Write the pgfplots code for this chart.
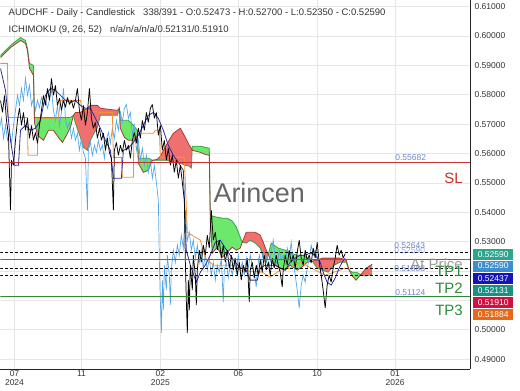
\documentclass[border=0pt]{standalone}
\usepackage{fontspec}
\setmainfont{Liberation Sans}
\usepackage{pgfplots}
\usepackage{pgfplotstable}
\pgfplotsset{compat=1.18}

\definecolor{gridc}{HTML}{E6E6E6}
\definecolor{tenkan}{HTML}{2B2BA6}
\definecolor{kijun}{HTML}{F29133}
\definecolor{chikou}{HTML}{55A8E8}
\definecolor{spanA}{HTML}{3E9E4A}
\definecolor{spanB}{HTML}{A83A3A}
\definecolor{cloudG}{HTML}{6CE86C}
\definecolor{cloudR}{HTML}{F07070}
\definecolor{slred}{HTML}{C83030}
\definecolor{tpgreen}{HTML}{2E8B3A}
\definecolor{lvl}{HTML}{6F86C8}
\definecolor{tagA}{HTML}{2CA58D}
\definecolor{tagB}{HTML}{3E8ED0}
\definecolor{tagC}{HTML}{1414B8}
\definecolor{tagD}{HTML}{1C9080}
\definecolor{tagE}{HTML}{D01040}
\definecolor{tagF}{HTML}{E86818}
\definecolor{txt}{HTML}{333333}

\pgfplotstableread{
x y
0 0.5781
2 0.5740
4 0.5798
6 0.5713
8 0.5662
10 0.5407
11 0.5577
13 0.5560
15 0.5645
17 0.5713
19 0.5754
21 0.5696
23 0.5740
25 0.5679
27 0.5720
29 0.5652
31 0.5696
33 0.5645
35 0.5672
37 0.5635
39 0.5696
41 0.5747
43 0.5798
45 0.5764
47 0.5822
49 0.5781
51 0.5856
53 0.5798
55 0.5832
57 0.5764
59 0.5788
61 0.5747
63 0.5781
65 0.5757
67 0.5791
69 0.5767
71 0.5781
73 0.5754
75 0.5781
77 0.5822
79 0.5747
81 0.5713
83 0.5764
85 0.5696
87 0.5740
89 0.5822
91 0.5720
93 0.5686
95 0.5706
97 0.5652
99 0.5686
101 0.5645
103 0.5669
105 0.5611
107 0.5652
109 0.5604
111 0.5584
113 0.5407
114 0.5611
116 0.5638
118 0.5594
120 0.5628
122 0.5604
124 0.5645
126 0.5611
128 0.5628
130 0.5584
132 0.5645
134 0.5672
136 0.5635
138 0.5686
140 0.5652
142 0.5713
144 0.5679
146 0.5740
148 0.5706
150 0.5754
152 0.5767
154 0.5720
156 0.5740
158 0.5662
160 0.5696
162 0.5611
164 0.5645
166 0.5577
168 0.5618
170 0.5560
172 0.5594
174 0.5536
176 0.5577
178 0.5516
180 0.5560
182 0.5502
184 0.5441
185 0.5237
186 0.5101
187 0.4989
188 0.5169
189 0.5067
190 0.5220
192 0.5135
193 0.5254
195 0.5186
196 0.5084
197 0.5203
199 0.5271
201 0.5230
203 0.5288
205 0.5254
207 0.5322
209 0.5278
211 0.5407
213 0.5305
215 0.5332
217 0.5271
219 0.5305
221 0.5244
223 0.5288
225 0.5230
227 0.5271
229 0.5210
231 0.5254
233 0.5203
235 0.5244
237 0.5186
239 0.5230
241 0.5169
243 0.5220
245 0.5196
247 0.5244
249 0.5094
250 0.5203
252 0.5230
254 0.5176
256 0.5220
258 0.5186
260 0.5237
262 0.5196
264 0.5254
266 0.5203
268 0.5230
270 0.5186
272 0.5244
274 0.5210
276 0.5254
278 0.5220
280 0.5196
282 0.5145
283 0.5203
285 0.5254
287 0.5220
289 0.5271
291 0.5230
293 0.5254
295 0.5210
297 0.5264
299 0.5305
301 0.5244
303 0.5220
305 0.5271
307 0.5237
309 0.5254
311 0.5227
313 0.5278
315 0.5244
317 0.5298
319 0.5230
321 0.5186
323 0.5135
325 0.5074
327 0.5152
329 0.5186
331 0.5162
333 0.5210
335 0.5244
337 0.5288
339 0.5254
341 0.5271
343 0.5244
345 0.5259
}\price

\pgfplotstableread{
x y
0 0.5890
5 0.5815
10 0.5645
14 0.5560
18 0.5560
20 0.5679
25 0.5696
30 0.5679
35 0.5686
40 0.5713
45 0.5798
50 0.5822
55 0.5815
60 0.5798
65 0.5781
70 0.5774
75 0.5781
80 0.5764
85 0.5754
90 0.5754
95 0.5720
100 0.5686
105 0.5645
110 0.5611
113 0.5516
121 0.5516
123 0.5611
128 0.5618
133 0.5638
138 0.5662
143 0.5696
148 0.5730
153 0.5740
158 0.5720
163 0.5679
168 0.5628
173 0.5594
178 0.5570
183 0.5543
186 0.5271
190 0.5220
196 0.5162
200 0.5196
205 0.5220
210 0.5254
215 0.5298
220 0.5305
225 0.5278
230 0.5254
235 0.5230
240 0.5210
245 0.5210
250 0.5169
257 0.5169
260 0.5210
265 0.5220
270 0.5220
275 0.5220
280 0.5210
285 0.5203
290 0.5230
295 0.5244
300 0.5254
305 0.5254
310 0.5261
315 0.5254
320 0.5230
324 0.5186
327 0.5162
331 0.5152
335 0.5176
339 0.5210
342 0.5230
345 0.5244
}\tenkan

\pgfplotstableread{
x y
0 0.5907
7 0.5907
7.5 0.5723
27 0.5723
27.5 0.5594
37 0.5594
37.5 0.5720
58 0.5720
60 0.5781
80 0.5781
82 0.5747
100 0.5740
112 0.5740
113 0.5587
121 0.5587
122 0.5519
133 0.5519
133.5 0.5669
153 0.5669
155 0.5679
159 0.5679
160 0.5587
184 0.5587
187 0.5332
200 0.5305
205 0.5244
213 0.5220
235 0.5220
240 0.5203
262 0.5196
270 0.5179
280 0.5203
290 0.5210
300 0.5230
315 0.5203
325 0.5186
340 0.5203
345 0.5210
}\kijun

\pgfplotstableread{
x a b
0 0.5934 0.5927
10 0.5968 0.5961
20 0.5995 0.5985
25 0.5985 0.5975
27 0.5958 0.5951
29 0.5907 0.5890
33 0.5900 0.5866
34 0.5723 0.5706
37 0.5723 0.5662
43 0.5723 0.5645
48 0.5723 0.5679
53 0.5723 0.5679
58 0.5723 0.5655
62 0.5723 0.5638
66 0.5723 0.5662
70 0.5723 0.5689
73 0.5730 0.5730
75 0.5703 0.5740
80 0.5655 0.5740
83 0.5621 0.5747
87 0.5611 0.5754
90 0.5645 0.5764
94 0.5672 0.5764
97 0.5689 0.5764
100 0.5730 0.5754
117 0.5730 0.5747
119 0.5754 0.5754
120 0.5713 0.5686
124 0.5713 0.5655
128 0.5713 0.5645
133 0.5696 0.5645
137 0.5679 0.5662
138 0.5584 0.5567
143 0.5584 0.5536
148 0.5584 0.5543
152 0.5577 0.5577
157 0.5577 0.5580
160 0.5577 0.5591
167 0.5577 0.5635
173 0.5570 0.5669
180 0.5567 0.5686
185 0.5560 0.5655
189 0.5557 0.5628
191 0.5550 0.5618
192 0.5625 0.5611
200 0.5625 0.5604
205 0.5621 0.5597
209 0.5618 0.5594
210 0.5390 0.5373
212 0.5387 0.5261
217 0.5383 0.5281
222 0.5380 0.5247
227 0.5380 0.5264
232 0.5370 0.5281
236 0.5350 0.5271
240 0.5315 0.5278
242 0.5298 0.5298
246 0.5295 0.5332
250 0.5305 0.5332
255 0.5295 0.5332
260 0.5278 0.5322
263 0.5247 0.5298
266 0.5230 0.5271
268 0.5257 0.5257
271 0.5295 0.5230
278 0.5278 0.5213
285 0.5271 0.5203
290 0.5261 0.5220
297 0.5254 0.5203
303 0.5254 0.5217
307 0.5244 0.5230
312 0.5234 0.5234
317 0.5210 0.5237
322 0.5203 0.5244
328 0.5196 0.5244
334 0.5220 0.5244
340 0.5230 0.5244
346 0.5230 0.5237
349 0.5203 0.5203
352 0.5196 0.5183
356 0.5196 0.5169
360 0.5189 0.5186
362 0.5186 0.5193
366 0.5183 0.5210
372 0.5189 0.5223
}\senkou

\tikzset{
  tag/.style={anchor=west, text=white, font=\fontsize{8.5}{9}\selectfont, inner sep=0pt, minimum width=40pt, minimum height=11pt},
  lvltxt/.style={anchor=west, text=lvl, font=\fontsize{8.5}{9}\selectfont, inner sep=0pt},
  big/.style={anchor=west, font=\fontsize{15}{16}\selectfont, inner sep=0pt}
}

\begin{document}
\begin{tikzpicture}
\begin{axis}[
  at={(0pt,21pt)}, anchor=south west,
  scale only axis, width=470pt, height=369pt,
  xmin=0, xmax=470, ymin=0.4866, ymax=0.6121,
  axis x line*=bottom, axis y line*=right,
  axis line style={draw=black!85, line width=1pt},
  clip mode=individual,
  major tick length=0pt,
  grid=major, major grid style={draw=gridc, line width=0.6pt},
  xtick={14,81,160,238,317,395},
  xticklabels={{07\\2024},{11},{02\\2025},{06},{10},{01\\2026}},
  xticklabel style={align=center, font=\fontsize{8.5}{9}\selectfont, text=txt, inner sep=1pt},
  ytick={0.49,0.50,0.51,0.52,0.53,0.54,0.55,0.56,0.57,0.58,0.59,0.60,0.61},
  yticklabels={0.49000,0.50000,,,0.53000,0.54000,0.55000,0.56000,0.57000,0.58000,0.59000,0.60000,0.61000},
  yticklabel style={font=\fontsize{8.5}{9}\selectfont, text=txt, anchor=west, xshift=1pt},
]
% ---- Ichimoku cloud: Senkou A forward, Senkou B back ----
% green (A above B)
\addplot[fill=cloudG, draw=none] coordinates {(0,0.5934)(10,0.5968)(20,0.5995)(25,0.5985)(27,0.5958)(29,0.5907)(33,0.5900)(34,0.5723)(37,0.5723)(43,0.5723)(48,0.5723)(53,0.5723)(58,0.5723)(62,0.5723)(66,0.5723)(70,0.5723)(73,0.5730)(70,0.5689)(66,0.5662)(62,0.5638)(58,0.5655)(53,0.5679)(48,0.5679)(43,0.5645)(37,0.5662)(34,0.5706)(33,0.5866)(29,0.5890)(27,0.5951)(25,0.5975)(20,0.5985)(10,0.5961)(0,0.5927)};
\addplot[fill=cloudG, draw=none] coordinates {(119,0.5754)(120,0.5713)(124,0.5713)(128,0.5713)(133,0.5696)(137,0.5679)(138,0.5584)(143,0.5584)(148,0.5584)(152,0.5577)(148,0.5543)(143,0.5536)(138,0.5567)(137,0.5662)(133,0.5645)(128,0.5645)(124,0.5655)(120,0.5686)};
\addplot[fill=cloudG, draw=none] coordinates {(191.83,0.5612)(192,0.5625)(200,0.5625)(205,0.5621)(209,0.5618)(210,0.5390)(212,0.5387)(217,0.5383)(222,0.5380)(227,0.5380)(232,0.5370)(236,0.5350)(240,0.5315)(242,0.5298)(240,0.5278)(236,0.5271)(232,0.5281)(227,0.5264)(222,0.5247)(217,0.5281)(212,0.5261)(210,0.5373)(209,0.5594)(205,0.5597)(200,0.5604)(192,0.5611)};
\addplot[fill=cloudG, draw=none] coordinates {(268,0.5257)(271,0.5295)(278,0.5278)(285,0.5271)(290,0.5261)(297,0.5254)(303,0.5254)(307,0.5244)(312,0.5234)(307,0.5230)(303,0.5217)(297,0.5203)(290,0.5220)(285,0.5203)(278,0.5213)(271,0.5230)};
\addplot[fill=cloudG, draw=none] coordinates {(349,0.5203)(352,0.5196)(356,0.5196)(360,0.5189)(360.6,0.5188)(360,0.5186)(356,0.5169)(352,0.5183)};
% red (B above A)
\addplot[fill=cloudR, draw=none] coordinates {(73,0.5730)(75,0.5703)(80,0.5655)(83,0.5621)(87,0.5611)(90,0.5645)(94,0.5672)(97,0.5689)(100,0.5730)(117,0.5730)(119,0.5754)(117,0.5747)(100,0.5754)(97,0.5764)(94,0.5764)(90,0.5764)(87,0.5754)(83,0.5747)(80,0.5740)(75,0.5740)};
\addplot[fill=cloudR, draw=none] coordinates {(152,0.5577)(157,0.5577)(160,0.5577)(167,0.5577)(173,0.5570)(180,0.5567)(185,0.5560)(189,0.5557)(191,0.5550)(191.83,0.5612)(191,0.5618)(189,0.5628)(185,0.5655)(180,0.5686)(173,0.5669)(167,0.5635)(160,0.5591)(157,0.5580)};
\addplot[fill=cloudR, draw=none] coordinates {(242,0.5298)(246,0.5295)(250,0.5305)(255,0.5295)(260,0.5278)(263,0.5247)(266,0.5230)(268,0.5257)(266,0.5271)(263,0.5298)(260,0.5322)(255,0.5332)(250,0.5332)(246,0.5332)};
\addplot[fill=cloudR, draw=none] coordinates {(312,0.5234)(317,0.5210)(322,0.5203)(328,0.5196)(334,0.5220)(340,0.5230)(346,0.5230)(349,0.5203)(346,0.5237)(340,0.5244)(334,0.5244)(328,0.5244)(322,0.5244)(317,0.5237)};
\addplot[fill=cloudR, draw=none] coordinates {(360.6,0.5188)(362,0.5186)(366,0.5183)(372,0.5189)(372,0.5223)(366,0.5210)(362,0.5193)};
% cloud lines
\addplot[draw=spanA, line width=0.8pt] table[x=x, y=a] {\senkou};
\addplot[draw=spanB, line width=0.8pt] table[x=x, y=b] {\senkou};
% chikou span (price shifted 26 bars back)
\addplot[draw=chikou, line width=0.7pt] table[x expr=\thisrow{x}-26, y=y] {\price};
% kijun
\addplot[draw=kijun, line width=0.8pt] table[x=x, y=y] {\kijun};
% tenkan
\addplot[draw=tenkan, line width=0.8pt] table[x=x, y=y] {\tenkan};
% price
\addplot[draw=black, line width=0.75pt, line join=bevel] table[x=x, y=y] {\price};

% level lines
\addplot[draw=slred, line width=0.9pt] coordinates {(0,0.55682) (470,0.55682)};
\addplot[draw=tpgreen, line width=0.8pt] coordinates {(0,0.5240) (470,0.5240)};
\addplot[draw=tpgreen, line width=0.8pt] coordinates {(0,0.51124) (470,0.51124)};
\addplot[draw=black, line width=0.8pt, dash pattern=on 3pt off 2pt] coordinates {(0,0.5262) (470,0.5262)};
\addplot[draw=black, line width=0.8pt, dash pattern=on 3pt off 2pt] coordinates {(0,0.5210) (470,0.5210)};
\addplot[draw=black, line width=0.8pt, dash pattern=on 3pt off 2pt] coordinates {(0,0.5186) (470,0.5186)};

% watermark
\node[text=black!60, font=\fontsize{27}{28}\selectfont, inner sep=0pt] at (axis cs:259,0.5465) {Arincen};

% header
\node[anchor=west, text=txt, font=\fontsize{9.5}{10}\selectfont, inner sep=0pt] at (axis cs:8,0.6077) {AUDCHF - Daily - Candlestick\hspace{8pt}338/391 - O:0.52473 - H:0.52700 - L:0.52350 - C:0.52590};
\node[anchor=west, text=txt, font=\fontsize{9.5}{10}\selectfont, inner sep=0pt] at (axis cs:8,0.6022) {ICHIMOKU (9, 26, 52)\hspace{8pt}n/a/n/a/n/a/0.52131/0.51910};

% level labels
\node[lvltxt] at (axis cs:395,0.5587) {0.55682};
\node[big, text=slred] at (axis cs:444,0.5516) {SL};
\node[lvltxt] at (axis cs:394,0.5285) {0.52643};
\node[lvltxt, opacity=0.7] at (axis cs:394,0.5270) {0.52590};
\node[lvltxt] at (axis cs:394,0.5210) {0.51888};
\node[big, text=black!45, opacity=0.85] at (axis cs:410,0.5222) {At Price};
\node[big, text=tpgreen] at (axis cs:435,0.5199) {TP1};
\node[lvltxt] at (axis cs:395,0.5128) {0.51124};
\node[big, text=tpgreen] at (axis cs:435,0.5142) {TP2};
\node[big, text=tpgreen] at (axis cs:435,0.5067) {TP3};

% price tags on the right
\node[tag, fill=tagA] at (axis cs:473,0.5257) {0.52590};
\node[tag, fill=tagB] at (axis cs:473,0.5217) {0.52590};
\node[tag, fill=tagC] at (axis cs:473,0.5176) {0.52437};
\node[tag, fill=tagD] at (axis cs:473,0.5135) {0.52131};
\node[tag, fill=tagE] at (axis cs:473,0.5094) {0.51910};
\node[tag, fill=tagF] at (axis cs:473,0.5053) {0.51884};
\end{axis}
\useasboundingbox (0,0) rectangle (520pt,390pt);
\end{tikzpicture}
\end{document}
